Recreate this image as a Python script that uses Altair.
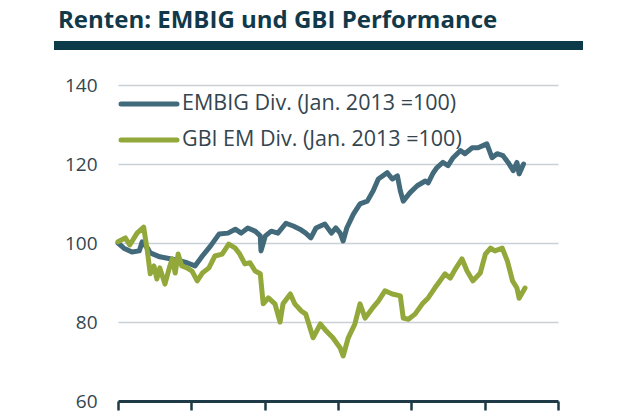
import altair as alt
import pandas as pd

# ---- data (year as decimal, index Jan 2013 = 100) ----
embig_year = [2013.00, 2013.08, 2013.19, 2013.29, 2013.33, 2013.41, 2013.44, 2013.57, 2013.71, 2013.85,
              2013.94, 2014.05, 2014.15, 2014.26, 2014.38, 2014.50, 2014.60, 2014.68, 2014.77, 2014.87,
              2014.94, 2014.95, 2015.01, 2015.09, 2015.18, 2015.29, 2015.39, 2015.48, 2015.56, 2015.63,
              2015.70, 2015.82, 2015.91, 2015.97, 2016.03, 2016.07, 2016.12, 2016.21, 2016.30, 2016.40,
              2016.48, 2016.55, 2016.67, 2016.74, 2016.81, 2016.85, 2016.89, 2016.98, 2017.08, 2017.19,
              2017.23, 2017.30, 2017.35, 2017.43, 2017.50, 2017.57, 2017.67, 2017.73, 2017.83, 2017.91,
              2018.03, 2018.10, 2018.17, 2018.25, 2018.32, 2018.39, 2018.44, 2018.47, 2018.53]
embig_val = [100.0, 98.7, 97.7, 98.0, 100.3, 98.5, 97.5, 96.5, 96.0, 95.5,
             95.0, 94.2, 96.7, 99.2, 102.3, 102.5, 103.5, 102.5, 103.8, 103.0,
             101.8, 98.0, 101.8, 103.0, 102.5, 105.0, 104.3, 103.5, 102.5, 101.3,
             103.8, 104.8, 102.5, 103.8, 102.5, 100.5, 103.8, 107.3, 109.9, 110.6,
             113.2, 116.2, 117.8, 116.2, 117.0, 113.2, 110.6, 112.7, 114.5, 115.7,
             115.2, 117.8, 119.1, 120.4, 119.6, 121.6, 123.4, 122.6, 124.1, 124.1,
             125.1, 121.6, 122.6, 122.1, 120.4, 118.3, 120.4, 117.5, 120.0]

gbi_year = [2013.00, 2013.10, 2013.16, 2013.26, 2013.35, 2013.40, 2013.44, 2013.49, 2013.53, 2013.57,
            2013.64, 2013.70, 2013.74, 2013.78, 2013.82, 2013.87, 2013.94, 2014.01, 2014.08, 2014.15,
            2014.24, 2014.32, 2014.42, 2014.51, 2014.60, 2014.66, 2014.73, 2014.80, 2014.87, 2014.94,
            2014.98, 2015.05, 2015.14, 2015.21, 2015.25, 2015.35, 2015.41, 2015.50, 2015.56, 2015.66,
            2015.76, 2015.84, 2015.93, 2016.03, 2016.07, 2016.14, 2016.23, 2016.30, 2016.37, 2016.47,
            2016.55, 2016.64, 2016.74, 2016.85, 2016.89, 2016.96, 2017.05, 2017.15, 2017.23, 2017.32,
            2017.39, 2017.46, 2017.53, 2017.60, 2017.69, 2017.76, 2017.84, 2017.94, 2018.01, 2018.08,
            2018.14, 2018.24, 2018.31, 2018.38, 2018.44, 2018.47, 2018.55]
gbi_val = [100.3, 101.3, 99.5, 102.5, 104.0, 98.0, 92.2, 94.2, 90.9, 93.7,
           89.6, 93.7, 96.0, 92.4, 97.2, 94.2, 93.7, 92.9, 90.4, 92.4,
           93.7, 96.7, 97.2, 99.7, 98.7, 97.2, 94.7, 95.0, 92.9, 92.2,
           84.6, 86.1, 84.6, 80.0, 84.6, 87.1, 84.6, 82.8, 82.0, 76.0,
           79.5, 77.7, 76.0, 73.4, 71.4, 76.0, 79.5, 84.6, 81.0, 83.5,
           85.3, 87.9, 87.1, 86.6, 81.0, 80.7, 82.0, 84.6, 86.1, 88.6,
           90.4, 92.2, 91.1, 93.4, 96.0, 92.9, 90.4, 92.4, 97.2, 98.7,
           98.0, 98.7, 95.4, 90.4, 88.6, 86.0, 88.6]

series_names = ["EMBIG Div. (Jan. 2013 =100)", "GBI EM Div. (Jan. 2013 =100)"]
series_colors = ["#426a7b", "#92a83b"]
y_ticks = [60, 80, 100, 120, 140]
x_ticks = [2013, 2014, 2015, 2016, 2017, 2018, 2019]
title_text = "Renten: EMBIG und GBI Performance"

df = pd.concat([
    pd.DataFrame({"year": embig_year, "value": embig_val, "series": series_names[0], "order": 0}),
    pd.DataFrame({"year": gbi_year, "value": gbi_val, "series": series_names[1], "order": 1}),
])

FONT = "Open Sans"

x_enc = alt.X("year:Q", scale=alt.Scale(domain=[2013, 2019], nice=False, zero=False),
              axis=alt.Axis(values=x_ticks, labels=False, title=None, grid=False,
                            domainColor="#1d3a46", domainWidth=3, tickColor="#1d3a46",
                            tickWidth=2.5, tickSize=9))
y_enc = alt.Y("value:Q", scale=alt.Scale(domain=[60, 140], nice=False, zero=False),
              axis=alt.Axis(values=y_ticks, title=None, grid=True, gridColor="#c9d0d6",
                            gridWidth=1.5, domain=False, ticks=False, labelFont=FONT,
                            labelFontSize=19, labelColor="#34454f", labelPadding=21))

lines = alt.Chart(df).mark_line(strokeWidth=5, strokeJoin="round", strokeCap="round").encode(
    x=x_enc, y=y_enc,
    color=alt.Color("series:N", scale=alt.Scale(domain=series_names, range=series_colors), legend=None),
    order=alt.Order("order:Q"),
    detail="series:N",
)

leg_df = pd.DataFrame({"series": series_names, "ly": [19, 55]})
leg_lines = alt.Chart(leg_df).mark_rule(strokeWidth=5, strokeCap="round").encode(
    x=alt.value(3), x2=alt.value(59), y=alt.Y("ly:Q", scale=None),
    color=alt.Color("series:N", scale=alt.Scale(domain=series_names, range=series_colors), legend=None),
)
leg_text = alt.Chart(leg_df).mark_text(align="left", baseline="middle", font=FONT, fontSize=21.5,
                                       color="#34454f").encode(
    x=alt.value(64), y=alt.Y("ly:Q", scale=None), text="series:N")

title_df = pd.DataFrame({"t": [title_text]})
title = alt.Chart(title_df).mark_text(align="left", baseline="alphabetic", font=FONT, fontSize=24,
                                      fontWeight="bold", color="#11394a").encode(
    x=alt.value(-60), y=alt.value(-57), text="t:N")
bar = alt.Chart(title_df).mark_rule(strokeWidth=9, color="#0d3a48").encode(
    x=alt.value(-64), x2=alt.value(465), y=alt.value(-39.5))

chart = alt.layer(lines, leg_lines, leg_text, title, bar).properties(
    width=440, height=316,
    autosize=alt.AutoSizeParams(type="none"),
    padding={"left": 110, "top": 77, "right": 54, "bottom": 12},
).configure_view(stroke=None)

chart.save("out.html", embed_options={"renderer": "svg", "actions": False})
